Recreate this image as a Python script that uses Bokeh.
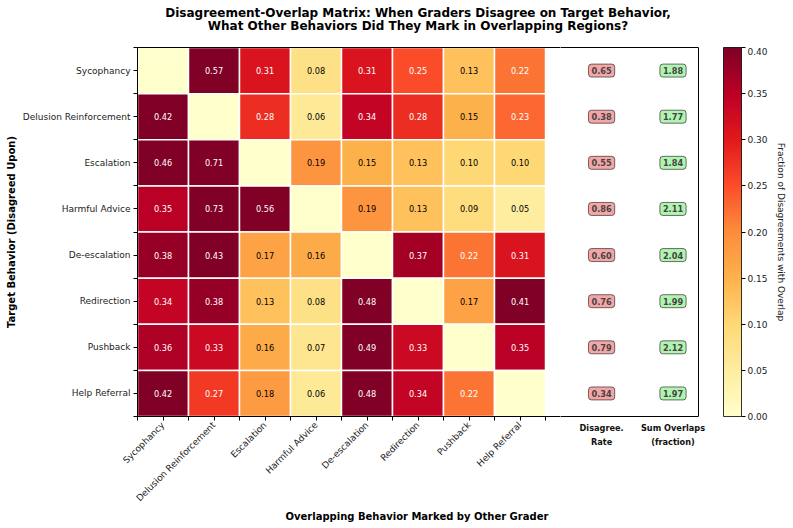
import math
from bokeh.plotting import figure
from bokeh.layouts import column, row
from bokeh.models import (ColumnDataSource, LinearColorMapper, ColorBar, FixedTicker,
                          PrintfTickFormatter, Label, Range1d, LinearAxis, Title)
from bokeh.core.properties import value
from bokeh.palettes import interp_palette
from bokeh.embed import file_html
from bokeh.resources import INLINE

FONT = "DejaVu Sans"

behaviors = ["Sycophancy", "Delusion Reinforcement", "Escalation", "Harmful Advice",
             "De-escalation", "Redirection", "Pushback", "Help Referral"]

nan = float("nan")
row_sycophancy = [nan, 0.57, 0.31, 0.08, 0.31, 0.25, 0.13, 0.22]
row_delusion = [0.42, nan, 0.28, 0.06, 0.34, 0.28, 0.15, 0.23]
row_escalation = [0.46, 0.71, nan, 0.19, 0.15, 0.13, 0.10, 0.10]
row_harmful = [0.35, 0.73, 0.56, nan, 0.19, 0.13, 0.09, 0.05]
row_deescalation = [0.38, 0.43, 0.17, 0.16, nan, 0.37, 0.22, 0.31]
row_redirection = [0.34, 0.38, 0.13, 0.08, 0.48, nan, 0.17, 0.41]
row_pushback = [0.36, 0.33, 0.16, 0.07, 0.49, 0.33, nan, 0.35]
row_help = [0.42, 0.27, 0.18, 0.06, 0.48, 0.34, 0.22, nan]
overlap_rows = [row_sycophancy, row_delusion, row_escalation, row_harmful,
                row_deescalation, row_redirection, row_pushback, row_help]

disagree_rate = [0.65, 0.38, 0.55, 0.86, 0.60, 0.76, 0.79, 0.34]
sum_overlaps = [1.88, 1.77, 1.84, 2.11, 2.04, 1.99, 2.12, 1.97]
summary_x = [8.6, 10.0]
summary_head = ["Disagree.", "Sum Overlaps"]
summary_sub = ["Rate", "(fraction)"]

title_lines = ["Disagreement-Overlap Matrix: When Graders Disagree on Target Behavior,",
               "What Other Behaviors Did They Mark in Overlapping Regions?"]

cbar_ticks = [0.0, 0.05, 0.10, 0.15, 0.20, 0.25, 0.30, 0.35, 0.40]

# YlOrRd colour map (light -> dark)
ylorrd = ["#ffffcc", "#ffeda0", "#fed976", "#feb24c", "#fd8d3c",
          "#fc4e2a", "#e31a1c", "#bd0026", "#800026"]
palette = interp_palette(ylorrd, 256)
mapper = LinearColorMapper(palette=palette, low=0.0, high=0.4, nan_color="#ffffcc")

xs, ys, vals, labels, tcolors = [], [], [], [], []
for r, rowvals in enumerate(overlap_rows):
    for c, v in enumerate(rowvals):
        xs.append(c)
        ys.append(r)
        vals.append(v)
        labels.append("" if math.isnan(v) else f"{v:.2f}")
        tcolors.append("white" if (not math.isnan(v) and v > 0.2) else "black")
src = ColumnDataSource(dict(x=xs, y=ys, v=vals, label=labels, tc=tcolors))

# geometry: one data unit = 51 px across, the plot box spans x = -0.5 .. 10.5
LEFT_W, MID_SPLIT_PX, RIGHT_W = 560, 423, 233
X_SPLIT = -0.5 + MID_SPLIT_PX * 11.0 / 561.0
y_range = Range1d(7.5, -0.5)


def bare_axis(line_color="black"):
    return LinearAxis(ticker=FixedTicker(ticks=[]), axis_line_color=line_color,
                      major_tick_out=0, major_tick_in=0, minor_tick_out=0, minor_tick_in=0,
                      major_label_standoff=0, axis_label_standoff=0)


# ---- title strip (pixel coordinates) -------------------------------------------
head = figure(width=793, height=47, output_backend="svg", toolbar_location=None,
              x_axis_type=None, y_axis_type=None,
              x_range=Range1d(0, 793), y_range=Range1d(47, 0),
              min_border_left=0, min_border_right=0, min_border_top=0, min_border_bottom=0)
head.outline_line_color = None
head.grid.visible = False
for line, ypix in zip(title_lines, [12, 25]):
    head.add_layout(Label(x=417.5, y=ypix, text=line, text_font=FONT,
                          text_font_size="12px", text_font_style="bold",
                          text_align="center", text_baseline="middle", text_color="black"))

# ---- heatmap -----------------------------------------------------------------
p = figure(width=LEFT_W, height=481, output_backend="svg", toolbar_location=None,
           x_range=Range1d(-0.5, X_SPLIT), y_range=y_range,
           min_border_left=137, min_border_right=0, min_border_top=0, min_border_bottom=112)
p.grid.visible = False
p.outline_line_color = None
xax = p.below[0]
yax = p.left[0]

p.rect(x="x", y="y", width=1, height=1, source=src,
       fill_color={"field": "v", "transform": mapper},
       line_color="white", line_width=1.5)
p.text(x="x", y="y", text="label", source=src, text_color="tc",
       text_align="center", text_baseline="middle",
       text_font=value(FONT), text_font_size="8.2px")

boundaries = [i - 0.5 for i in range(9)]
label_map = {i: name for i, name in enumerate(behaviors)}
for ax in (xax, yax):
    ax.ticker = FixedTicker(ticks=list(range(8)), minor_ticks=boundaries)
    ax.major_label_overrides = label_map
    ax.major_label_text_font = FONT
    ax.major_label_text_font_size = "9px"
    ax.major_label_text_color = "#222222"
    ax.major_tick_in = 0
    ax.major_tick_out = 4
    ax.minor_tick_in = 0
    ax.minor_tick_out = 4
    ax.axis_line_color = "black"
    ax.major_label_standoff = 3
xax.major_label_orientation = math.pi / 4
yax.axis_label = "Target Behavior (Disagreed Upon)"
yax.axis_label_standoff = 3
yax.axis_label_text_font = FONT
yax.axis_label_text_font_size = "10px"
yax.axis_label_text_font_style = "bold"
yax.axis_label_text_color = "black"

# top edge of the plot box
p.add_layout(bare_axis(), "above")

# x caption, centred under the whole plot box
p.add_layout(Title(text="Overlapping Behavior Marked by Other Grader", align="left",
                   offset=148, vertical_align="top",
                   text_font=FONT, text_font_size="10px", text_font_style="bold",
                   text_color="black", standoff=2), "below")

# ---- summary columns -----------------------------------------------------------
q = figure(width=RIGHT_W, height=481, output_backend="svg", toolbar_location=None,
           x_range=Range1d(X_SPLIT, 10.5), y_range=y_range, y_axis_type=None,
           x_axis_type=None,
           min_border_left=0, min_border_right=95, min_border_top=0, min_border_bottom=112)
q.grid.visible = False
q.outline_line_color = None
q.add_layout(bare_axis(), "above")

head_axis = LinearAxis(ticker=FixedTicker(ticks=summary_x),
                       major_label_overrides=dict(zip(summary_x, summary_head)),
                       axis_line_color="black", major_tick_out=0, major_tick_in=0,
                       minor_tick_out=0, minor_tick_in=0, major_label_standoff=6,
                       major_label_text_font=FONT, major_label_text_font_size="8.2px",
                       major_label_text_font_style="bold", major_label_text_color="#111111")
sub_axis = LinearAxis(ticker=FixedTicker(ticks=summary_x),
                      major_label_overrides=dict(zip(summary_x, summary_sub)),
                      axis_line_color=None, major_tick_out=0, major_tick_in=0,
                      minor_tick_out=0, minor_tick_in=0, major_label_standoff=1,
                      major_label_text_font=FONT, major_label_text_font_size="8.2px",
                      major_label_text_font_style="bold", major_label_text_color="#111111")
q.add_layout(head_axis, "below")
q.add_layout(sub_axis, "below")

for i in range(8):
    q.add_layout(Label(x=summary_x[0], y=i, text=f"{disagree_rate[i]:.2f}",
                       text_font=FONT, text_font_size="8.2px", text_font_style="bold",
                       text_align="center", text_baseline="middle",
                       background_fill_color="#f08080", background_fill_alpha=0.7,
                       border_line_color="black", border_line_alpha=0.55,
                       border_line_width=1, padding=3, border_radius=3))
    q.add_layout(Label(x=summary_x[1], y=i, text=f"{sum_overlaps[i]:.2f}",
                       text_font=FONT, text_font_size="8.2px", text_font_style="bold",
                       text_align="center", text_baseline="middle",
                       background_fill_color="#90ee90", background_fill_alpha=0.7,
                       border_line_color="black", border_line_alpha=0.55,
                       border_line_width=1, padding=3, border_radius=3))

# right edge of the plot box, plus a gap before the colour bar
gap_axis = LinearAxis(ticker=FixedTicker(ticks=[3.5]), major_label_overrides={3.5: ""},
                      axis_line_color="black", major_tick_line_color=None,
                      major_tick_in=0, major_tick_out=25, major_label_standoff=0,
                      minor_tick_line_color=None, major_label_text_font_size="1px")
q.add_layout(gap_axis, "right")

cbar = ColorBar(color_mapper=mapper, width=18, padding=0,
                ticker=FixedTicker(ticks=cbar_ticks),
                formatter=PrintfTickFormatter(format="%.2f"),
                major_label_text_font=FONT, major_label_text_font_size="9px",
                major_label_text_color="#222222",
                major_tick_in=0, major_tick_out=4, major_tick_line_color="black",
                bar_line_color="black", bar_line_width=0.8,
                background_fill_alpha=0, border_line_color=None, label_standoff=2)
q.add_layout(cbar, "right")

cb_axis = LinearAxis(ticker=FixedTicker(ticks=[]), axis_line_color=None,
                     major_tick_line_color=None, minor_tick_line_color=None,
                     major_tick_out=0, major_label_standoff=0,
                     axis_label="Fraction of Disagreements with Overlap",
                     axis_label_text_font=FONT, axis_label_text_font_size="9px",
                     axis_label_text_font_style="normal", axis_label_text_color="#222222",
                     axis_label_standoff=5)
q.add_layout(cb_axis, "right")

layout = column(head, row(p, q))
open("out.html", "w").write(file_html(layout, INLINE))
